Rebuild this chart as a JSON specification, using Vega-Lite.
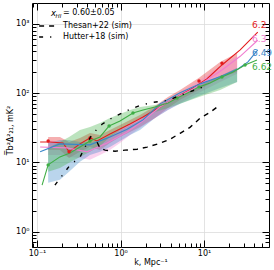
{
  "$schema": "https://vega.github.io/schema/vega-lite/v6.json",
  "width": 237,
  "height": 244,
  "autosize": {"type": "none"},
  "padding": {"left": 32, "top": 3, "right": 5, "bottom": 23},
  "config": {
    "view": {"stroke": "black", "strokeWidth": 1},
    "axis": {
      "domain": false, "labelFont": "DejaVu Sans", "titleFont": "DejaVu Sans",
      "labelFontSize": 8, "titleFontSize": 8, "tickColor": "black", "labelColor": "black",
      "titleColor": "black", "titleFontWeight": "normal", "tickWidth": 1, "tickOpacity": 1, "zindex": 1,
      "gridColor": "#dcdcdc", "gridWidth": 0.8, "labelFlush": false
    },
    "text": {"font": "DejaVu Sans"}
  },
  "datasets": {
    "bands": [
      {"s":"6.2","k":0.136,"lo":15.1,"hi":23.3},{"s":"6.2","k":0.188,"lo":15.1,"hi":23.3},{"s":"6.2","k":0.242,"lo":11.6,"hi":19.7},{"s":"6.2","k":0.327,"lo":14.2,"hi":22.5},{"s":"6.2","k":0.431,"lo":16.7,"hi":26.6},{"s":"6.2","k":0.568,"lo":15.1,"hi":24.9},{"s":"6.2","k":0.748,"lo":19.1,"hi":29.4},{"s":"6.2","k":0.986,"lo":23.3,"hi":34.7},{"s":"6.2","k":1.30,"lo":27.5,"hi":41},{"s":"6.2","k":1.71,"lo":32.5,"hi":48.4},{"s":"6.2","k":2.59,"lo":43.8,"hi":65},{"s":"6.2","k":3.70,"lo":61,"hi":88},{"s":"6.2","k":5.17,"lo":80,"hi":111},{"s":"6.2","k":8.71,"lo":111,"hi":166},{"s":"6.2","k":15.6,"lo":166,"hi":282},{"s":"6.2","k":24.9,"lo":202,"hi":380},
      {"s":"6.3","k":0.136,"lo":12.8,"hi":21.1},{"s":"6.3","k":0.188,"lo":12.8,"hi":19.7},{"s":"6.3","k":0.242,"lo":12.0,"hi":18.5},{"s":"6.3","k":0.327,"lo":11.6,"hi":17.3},{"s":"6.3","k":0.431,"lo":10.9,"hi":16.2},{"s":"6.3","k":0.568,"lo":12.8,"hi":19.1},{"s":"6.3","k":0.748,"lo":15.1,"hi":23.3},{"s":"6.3","k":0.986,"lo":19.1,"hi":29.4},{"s":"6.3","k":1.30,"lo":24.9,"hi":37.1},{"s":"6.3","k":1.71,"lo":31.4,"hi":45.3},{"s":"6.3","k":2.59,"lo":43.8,"hi":63},{"s":"6.3","k":3.70,"lo":57,"hi":82},{"s":"6.3","k":5.17,"lo":72,"hi":104},{"s":"6.3","k":8.71,"lo":101,"hi":150},{"s":"6.3","k":15.6,"lo":145,"hi":247},{"s":"6.3","k":24.9,"lo":190,"hi":340},
      {"s":"6.49","k":0.136,"lo":5.1,"hi":19.1},{"s":"6.49","k":0.188,"lo":5.6,"hi":21.1},{"s":"6.49","k":0.242,"lo":7.3,"hi":21.1},{"s":"6.49","k":0.327,"lo":10.2,"hi":19.7},{"s":"6.49","k":0.431,"lo":12.8,"hi":19.7},{"s":"6.49","k":0.568,"lo":14.2,"hi":21.1},{"s":"6.49","k":0.748,"lo":16.7,"hi":24.9},{"s":"6.49","k":0.986,"lo":20.4,"hi":29.4},{"s":"6.49","k":1.30,"lo":24.9,"hi":34.7},{"s":"6.49","k":1.71,"lo":29.4,"hi":41},{"s":"6.49","k":2.59,"lo":43.8,"hi":61},{"s":"6.49","k":3.70,"lo":57,"hi":80},{"s":"6.49","k":5.17,"lo":70,"hi":97},{"s":"6.49","k":8.71,"lo":91,"hi":132},{"s":"6.49","k":15.6,"lo":119,"hi":177},{"s":"6.49","k":24.9,"lo":145,"hi":231},
      {"s":"6.62","k":0.136,"lo":7.3,"hi":16.2},{"s":"6.62","k":0.188,"lo":8.3,"hi":19.7},{"s":"6.62","k":0.242,"lo":9.9,"hi":23.3},{"s":"6.62","k":0.327,"lo":12.0,"hi":29.4},{"s":"6.62","k":0.431,"lo":14.2,"hi":32.5},{"s":"6.62","k":0.568,"lo":17.3,"hi":37.1},{"s":"6.62","k":0.748,"lo":23.3,"hi":43.8},{"s":"6.62","k":0.986,"lo":29.4,"hi":50},{"s":"6.62","k":1.30,"lo":35.9,"hi":57},{"s":"6.62","k":1.71,"lo":43.8,"hi":63},{"s":"6.62","k":2.59,"lo":53.5,"hi":67.5},{"s":"6.62","k":3.70,"lo":61,"hi":74},{"s":"6.62","k":5.17,"lo":70,"hi":91},{"s":"6.62","k":8.71,"lo":88,"hi":127},{"s":"6.62","k":15.6,"lo":111,"hi":177},{"s":"6.62","k":24.9,"lo":145,"hi":231}
    ],
    "lines": [
      {"s":"6.2","k":0.109,"P":19.7},{"s":"6.2","k":0.143,"P":19.7},{"s":"6.2","k":0.205,"P":19.1},{"s":"6.2","k":0.242,"P":14.2},{"s":"6.2","k":0.327,"P":18.5},{"s":"6.2","k":0.431,"P":22.5},{"s":"6.2","k":0.524,"P":20.4},{"s":"6.2","k":0.748,"P":25.7},{"s":"6.2","k":0.986,"P":30.4},{"s":"6.2","k":1.30,"P":35.9},{"s":"6.2","k":1.86,"P":45.3},{"s":"6.2","k":2.97,"P":63},{"s":"6.2","k":4.75,"P":88},{"s":"6.2","k":7.39,"P":119},{"s":"6.2","k":10.8,"P":160},{"s":"6.2","k":16.4,"P":255},{"s":"6.2","k":27.1,"P":420},{"s":"6.2","k":44,"P":760},
      {"s":"6.3","k":0.109,"P":16.7},{"s":"6.3","k":0.229,"P":16.2},{"s":"6.3","k":0.397,"P":14.2},{"s":"6.3","k":0.69,"P":19.1},{"s":"6.3","k":1.20,"P":27.5},{"s":"6.3","k":1.86,"P":39.7},{"s":"6.3","k":2.97,"P":63},{"s":"6.3","k":4.75,"P":88},{"s":"6.3","k":7.39,"P":115},{"s":"6.3","k":10.8,"P":155},{"s":"6.3","k":16.4,"P":216},{"s":"6.3","k":27.1,"P":340},{"s":"6.3","k":44,"P":580},
      {"s":"6.49","k":0.109,"P":14.2},{"s":"6.49","k":0.188,"P":18.5},{"s":"6.49","k":0.431,"P":17.9},{"s":"6.49","k":0.748,"P":23.3},{"s":"6.49","k":1.20,"P":30},{"s":"6.49","k":1.86,"P":41},{"s":"6.49","k":2.97,"P":70},{"s":"6.49","k":5.17,"P":101},{"s":"6.49","k":9.0,"P":136},{"s":"6.49","k":16.4,"P":177},{"s":"6.49","k":25.5,"P":223},{"s":"6.49","k":33.6,"P":282},{"s":"6.49","k":44,"P":420},
      {"s":"6.62","k":0.115,"P":4.7},{"s":"6.62","k":0.136,"P":9.2},{"s":"6.62","k":0.188,"P":12.0},{"s":"6.62","k":0.248,"P":13.7},{"s":"6.62","k":0.327,"P":16.7},{"s":"6.62","k":0.431,"P":20.4},{"s":"6.62","k":0.568,"P":23.3},{"s":"6.62","k":0.73,"P":33.6},{"s":"6.62","k":0.986,"P":39.7},{"s":"6.62","k":1.41,"P":51.7},{"s":"6.62","k":1.86,"P":57},{"s":"6.62","k":2.59,"P":63},{"s":"6.62","k":3.70,"P":72},{"s":"6.62","k":4.75,"P":85},{"s":"6.62","k":6.43,"P":101},{"s":"6.62","k":8.71,"P":123},{"s":"6.62","k":11.8,"P":140},{"s":"6.62","k":16.4,"P":171},{"s":"6.62","k":22.3,"P":202},{"s":"6.62","k":31.0,"P":255},{"s":"6.62","k":43.1,"P":300}
    ],
    "markers": [
      {"s":"6.2","k":0.136,"P":20.4},{"s":"6.2","k":0.242,"P":14.2},{"s":"6.2","k":0.431,"P":22.5},{"s":"6.2","k":8.71,"P":150},{"s":"6.2","k":16.4,"P":270},
      {"s":"6.62","k":0.136,"P":9.2},{"s":"6.62","k":0.431,"P":20.4},{"s":"6.62","k":0.73,"P":33.6},{"s":"6.62","k":1.41,"P":51.7},{"s":"6.62","k":4.75,"P":85},{"s":"6.62","k":8.71,"P":123},{"s":"6.62","k":16.4,"P":171},{"s":"6.62","k":31.0,"P":255}
    ],
    "black": [
      {"m":"Thesan+22 (sim)","k":0.525,"P":19.5},{"m":"Thesan+22 (sim)","k":0.568,"P":16.0},{"m":"Thesan+22 (sim)","k":0.653,"P":15.0},{"m":"Thesan+22 (sim)","k":0.86,"P":14.5},{"m":"Thesan+22 (sim)","k":1.13,"P":15.0},{"m":"Thesan+22 (sim)","k":1.58,"P":15.5},{"m":"Thesan+22 (sim)","k":2.08,"P":16.6},{"m":"Thesan+22 (sim)","k":2.97,"P":18.9},{"m":"Thesan+22 (sim)","k":3.92,"P":21.6},{"m":"Thesan+22 (sim)","k":5.17,"P":26.3},{"m":"Thesan+22 (sim)","k":6.79,"P":32},{"m":"Thesan+22 (sim)","k":8.95,"P":43.3},{"m":"Thesan+22 (sim)","k":11.8,"P":52.7},{"m":"Thesan+22 (sim)","k":14.7,"P":64.4},
      {"m":"Hutter+18 (sim)","k":0.164,"P":4.7},{"m":"Hutter+18 (sim)","k":0.248,"P":9.1},{"m":"Hutter+18 (sim)","k":0.327,"P":11.9},{"m":"Hutter+18 (sim)","k":0.38,"P":17},{"m":"Hutter+18 (sim)","k":0.456,"P":25.5},{"m":"Hutter+18 (sim)","k":0.600,"P":35.5},{"m":"Hutter+18 (sim)","k":0.813,"P":44.7},{"m":"Hutter+18 (sim)","k":1.20,"P":56},{"m":"Hutter+18 (sim)","k":1.71,"P":66.5},{"m":"Hutter+18 (sim)","k":2.45,"P":73.5},{"m":"Hutter+18 (sim)","k":3.70,"P":78.5},{"m":"Hutter+18 (sim)","k":5.17,"P":92.7},{"m":"Hutter+18 (sim)","k":10.9,"P":129}
    ],
    "labels": [
      {"s":"6.2","k":37.6,"P":963},{"s":"6.3","k":37.6,"P":605},{"s":"6.49","k":37.6,"P":380},{"s":"6.62","k":37.6,"P":239}
    ],
    "annx": [{"t":"x","k":0.147,"P":1435}],
    "annhi": [{"t":"HI","k":0.1666,"P":1435}],
    "anneq": [{"t":"= 0.60±0.05","k":0.2048,"P":1435}]
  },
  "resolve": {"axis": {"x": "independent", "y": "independent"}},
  "layer": [
    {
      "data": {"name": "bands"},
      "mark": {"type": "area", "opacity": 0.35},
      "encoding": {
        "x": {"field": "k", "type": "quantitative", "scale": {"type": "log", "domain": [0.0871, 60], "nice": false},
          "axis": {"orient": "bottom", "values": [0.1, 1, 10], "labelExpr": "datum.value < 0.5 ? '10⁻¹' : datum.value < 5 ? '10⁰' : datum.value < 50 ? '10¹' : datum.value < 500 ? '10²' : '10³'",
            "tickSize": -7, "labelPadding": 9, "grid": true, "zindex": 0, "title": "k, Mpc⁻¹", "titleX": 118.5, "titleY": 15, "titleBaseline": "middle"}},
        "y": {"field": "lo", "type": "quantitative", "scale": {"type": "log", "domain": [0.6, 2000], "nice": false},
          "axis": {"orient": "left", "values": [1, 10, 100, 1000], "labelExpr": "datum.value < 0.5 ? '10⁻¹' : datum.value < 5 ? '10⁰' : datum.value < 50 ? '10¹' : datum.value < 500 ? '10²' : '10³'",
            "tickSize": -7, "labelPadding": 10, "grid": true, "zindex": 0, "title": "T̅b²Δ²₂₁, mK²", "titleX": -22, "titleY": 127, "titleBaseline": "middle"}},
        "y2": {"field": "hi"},
        "color": {"field": "s", "type": "nominal", "scale": {"domain": ["6.2", "6.3", "6.49", "6.62"], "range": ["#e31a1c", "#f07dd0", "#3a86c8", "#3fae45"]}, "legend": null}
      }
    },
    {
      "data": {"name": "lines"},
      "mark": {"type": "line", "strokeWidth": 1.1},
      "encoding": {
        "x": {"field": "k", "type": "quantitative", "axis": {"orient": "bottom", "values": [0.09, 0.2, 0.3, 0.4, 0.5, 0.6, 0.7, 0.8, 0.9, 2, 3, 4, 5, 6, 7, 8, 9, 20, 30, 40, 50], "labels": false, "tickSize": -4, "grid": false, "title": null}},
        "y": {"field": "P", "type": "quantitative", "axis": {"orient": "left", "values": [0.6, 0.7, 0.8, 0.9, 2, 3, 4, 5, 6, 7, 8, 9, 20, 30, 40, 50, 60, 70, 80, 90, 200, 300, 400, 500, 600, 700, 800, 900], "labels": false, "tickSize": -4, "grid": false, "title": null}},
        "color": {"field": "s", "type": "nominal", "legend": null}
      }
    },
    {
      "data": {"name": "markers"},
      "mark": {"type": "point", "filled": true, "size": 12, "opacity": 1},
      "encoding": {
        "x": {"field": "k", "type": "quantitative", "axis": {"orient": "top", "values": [0.1, 1, 10], "labels": false, "tickSize": -7, "grid": false, "title": null}},
        "y": {"field": "P", "type": "quantitative", "axis": {"orient": "right", "values": [1, 10, 100, 1000], "labels": false, "tickSize": -7, "grid": false, "title": null}},
        "color": {"field": "s", "type": "nominal", "legend": null}
      }
    },
    {
      "data": {"name": "black"},
      "mark": {"type": "line", "color": "black", "strokeWidth": 1.4},
      "encoding": {
        "x": {"field": "k", "type": "quantitative", "axis": {"orient": "top", "values": [0.09, 0.2, 0.3, 0.4, 0.5, 0.6, 0.7, 0.8, 0.9, 2, 3, 4, 5, 6, 7, 8, 9, 20, 30, 40, 50], "labels": false, "tickSize": -4, "grid": false, "title": null}},
        "y": {"field": "P", "type": "quantitative", "axis": {"orient": "right", "values": [0.6, 0.7, 0.8, 0.9, 2, 3, 4, 5, 6, 7, 8, 9, 20, 30, 40, 50, 60, 70, 80, 90, 200, 300, 400, 500, 600, 700, 800, 900], "labels": false, "tickSize": -4, "grid": false, "title": null}},
        "strokeDash": {"field": "m", "type": "nominal",
          "scale": {"domain": ["Thesan+22 (sim)", "Hutter+18 (sim)"], "range": [[5, 5], [4, 7, 1.2, 7]]},
          "legend": {"orient": "none", "legendX": 8.5, "legendY": 16, "title": null, "padding": 0,
            "symbolType": "M-1.4,0H1.4", "symbolSize": 144, "symbolStrokeWidth": 1.4, "symbolStrokeColor": "black",
            "labelFontSize": 8, "labelFont": "DejaVu Sans", "labelColor": "black", "labelOffset": 8.5, "rowPadding": 0}}
      }
    },
    {
      "data": {"name": "labels"},
      "mark": {"type": "text", "align": "left", "baseline": "middle", "fontSize": 9},
      "encoding": {
        "x": {"field": "k", "type": "quantitative", "axis": null},
        "y": {"field": "P", "type": "quantitative", "axis": null},
        "text": {"field": "s"},
        "color": {"field": "s", "type": "nominal", "legend": null}
      }
    },
    {
      "data": {"name": "annx"},
      "mark": {"type": "text", "align": "left", "baseline": "middle", "fontSize": 8.5, "fontStyle": "italic", "color": "black"},
      "encoding": {
        "x": {"field": "k", "type": "quantitative", "axis": null},
        "y": {"field": "P", "type": "quantitative", "axis": null},
        "text": {"field": "t"}
      }
    },
    {
      "data": {"name": "annhi"},
      "mark": {"type": "text", "align": "left", "baseline": "middle", "fontSize": 5.5, "fontStyle": "italic", "dy": 3, "color": "black"},
      "encoding": {
        "x": {"field": "k", "type": "quantitative", "axis": null},
        "y": {"field": "P", "type": "quantitative", "axis": null},
        "text": {"field": "t"}
      }
    },
    {
      "data": {"name": "anneq"},
      "mark": {"type": "text", "align": "left", "baseline": "middle", "fontSize": 8, "color": "black"},
      "encoding": {
        "x": {"field": "k", "type": "quantitative", "axis": null},
        "y": {"field": "P", "type": "quantitative", "axis": null},
        "text": {"field": "t"}
      }
    }
  ]
}
